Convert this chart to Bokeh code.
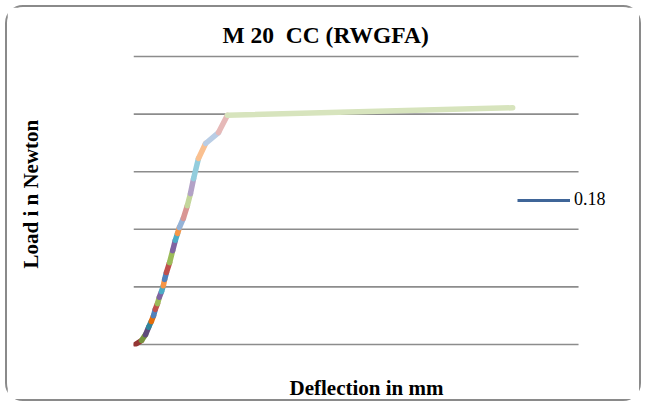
from bokeh.plotting import figure
from bokeh.models import Range1d, Legend, LegendItem, Title
from bokeh.embed import file_html
from bokeh.resources import INLINE

# Data (deflection in mm, load in arbitrary units)
deflection = [0.04, 0.18, 0.27, 0.34, 0.40, 0.45, 0.49, 0.54, 0.58, 0.63, 0.67, 0.70, 0.74,
              0.81, 0.88, 0.94, 0.99, 1.03, 1.12, 1.21, 1.28, 1.35, 1.46, 1.62, 1.91, 2.11, 8.52]
load = [0.0, 0.7, 1.7, 3.0, 4.0, 5.0, 6.1, 7.1, 8.2, 9.2, 10.2, 11.3, 12.5,
        14.2, 16.3, 18.1, 19.3, 20.3, 21.9, 24.1, 26.2, 28.8, 32.3, 34.9, 36.8, 39.8, 41.1]
segment_colors = ["#953735", "#77933C", "#604A7B", "#31859C", "#E46C0A", "#4F81BD",
                  "#C0504D", "#9BBB59", "#8064A2", "#4BACC6", "#F79646", "#4F81BD",
                  "#C0504D", "#9BBB59", "#8064A2", "#4BACC6", "#F79646", "#95B3D7",
                  "#D99694", "#C3D69B", "#B3A2C7", "#93CDDD", "#FAC090", "#B9CDE5",
                  "#E6B9B8", "#D7E4BD"]
grid_levels = [0, 10, 20, 30, 40, 50]
plot_x_min, plot_x_max = 0, 10
series_label = "0.18"
legend_color = "#3F6598"
title_text = "M 20\u00a0 CC (RWGFA)"
x_label = "Deflection in mm"
y_label = "Load i n Newton"

FONT = "Liberation Serif"

p = figure(width=636, height=396, output_backend="svg", toolbar_location=None,
           x_range=Range1d(0, 11.28), y_range=Range1d(-0.35, 50.35),
           min_border_left=126, min_border_right=8, min_border_top=47, min_border_bottom=57,
           margin=(5, 0, 0, 5),
           styles={"border": "2px solid #8a8a8a", "border-radius": "18px"})

p.outline_line_color = None
p.background_fill_color = "white"
p.border_fill_color = "white"
p.xaxis.visible = False
p.yaxis.visible = False
p.xgrid.visible = False
p.ygrid.visible = False

p.title.text = title_text
p.title.align = "left"
p.title.offset = 89
p.title.standoff = 13
p.title.text_font = FONT
p.title.text_font_style = "bold"
p.title.text_font_size = "23.5px"
p.title.text_color = "black"


def spacer(gap):
    # blank panel entry that only reserves space between the frame and an axis title
    return Title(text="\u00a0", text_font_size="1px", standoff=gap)


xt = Title(text=x_label, align="left", offset=156, standoff=2, text_font=FONT,
           text_font_style="bold", text_font_size="21px", text_color="black")
yt = Title(text=y_label, align="left", offset=78, standoff=2, text_font=FONT,
           text_font_style="bold", text_font_size="21px", text_color="black")
p.add_layout(spacer(23), "below")
p.add_layout(xt, "below")
p.add_layout(spacer(87), "left")
p.add_layout(yt, "left")

p.segment(x0=plot_x_min, x1=plot_x_max, y0=grid_levels, y1=grid_levels,
          line_color="#8C8C8C", line_width=1.6)

for i, c in enumerate(segment_colors):
    p.line(deflection[i:i + 2], load[i:i + 2], line_color=c, line_width=5.5, line_cap="round")

leg_r = p.line([-3, -2], [-10, -10], line_color=legend_color, line_width=3)
legend = Legend(items=[LegendItem(label=series_label, renderers=[leg_r])],
                location=(384, 136), padding=0, margin=0, spacing=0,
                glyph_width=53, glyph_height=20, label_height=20, label_standoff=4,
                label_text_font=FONT, label_text_font_size="18px", label_text_color="black",
                background_fill_alpha=0, border_line_color=None)
p.add_layout(legend)

open("out.html", "w").write(file_html(p, INLINE))
